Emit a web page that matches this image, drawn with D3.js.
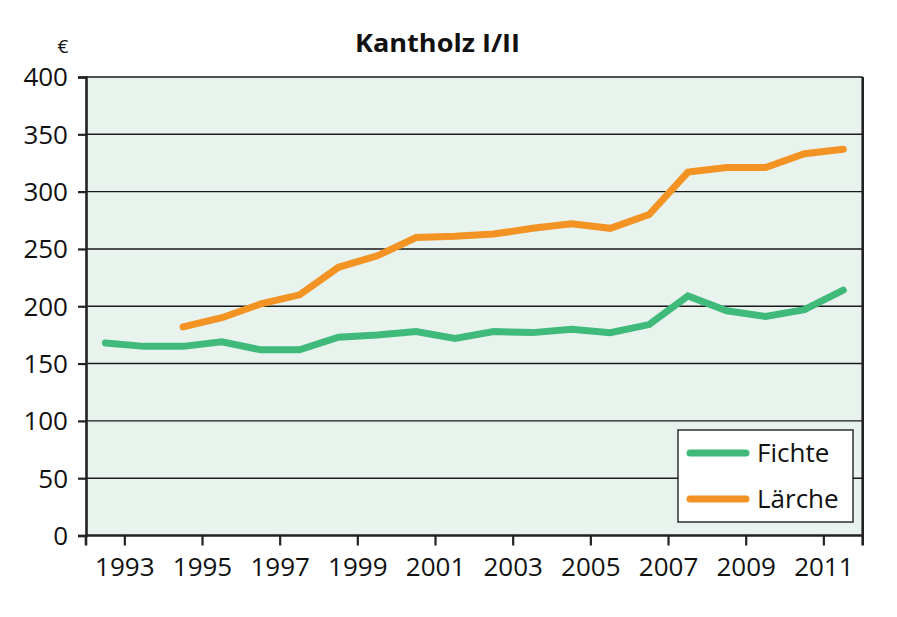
<!DOCTYPE html>
<html>
<head>
<meta charset="utf-8">
<script src="https://cdn.jsdelivr.net/npm/d3@7/dist/d3.min.js"></script>
<style>
  html, body { margin: 0; padding: 0; background: #fff; }
  svg { display: block; }
  text { font-family: "Open Sans", "Noto Sans", sans-serif; fill: #111; }
</style>
</head>
<body>
<svg id="chart" width="897" height="617"></svg>
<script>
const years = d3.range(1992, 2012);
const fichte = [168, 165, 165, 169, 162, 162, 173, 175, 178, 172, 178, 177, 180, 177, 184, 209, 196, 191, 197, 214];
const laercheYears = d3.range(1994, 2012);
const laerche = [182, 190, 202, 210, 234, 244, 260, 261, 263, 268, 272, 268, 280, 317, 321, 321, 333, 337];
const yTicks = [0, 50, 100, 150, 200, 250, 300, 350, 400];
const xTickYears = [1993, 1995, 1997, 1999, 2001, 2003, 2005, 2007, 2009, 2011];
const seriesNames = ["Fichte", "Lärche"];
const colors = ["#3fba7a", "#f39324"];
const title = "Kantholz I/II";
const unit = "€";

const svg = d3.select("#chart");
const L = 86, R = 862.7, T = 77, B = 535.5;

const x = d3.scaleBand().domain(years).range([L, R]).paddingInner(0).paddingOuter(0);
const y = d3.scaleLinear().domain([0, 400]).range([B, T]);
const cx = yr => x(yr) + x.bandwidth() / 2;

// background
svg.append("rect").attr("x", L).attr("y", T).attr("width", R - L).attr("height", B - T)
  .attr("fill", "#e8f3ee");

// gridlines
svg.append("g").selectAll("line").data(yTicks.filter(d => d > 0)).join("line")
  .attr("x1", L).attr("x2", R).attr("y1", d => y(d)).attr("y2", d => y(d))
  .attr("stroke", "#1a1a1a").attr("stroke-width", 1.4);

// y axis
const yAxis = d3.axisLeft(y).tickValues(yTicks).tickSize(8).tickPadding(10);
const gy = svg.append("g").attr("transform", `translate(${L},0)`).call(yAxis);
gy.select(".domain").attr("stroke", "#222").attr("stroke-width", 2.6);
gy.selectAll(".tick line").attr("stroke", "#222").attr("stroke-width", 2.2);
gy.selectAll(".tick text").attr("font-size", 26).attr("fill", "#111")
  .attr("font-family", "'Open Sans', sans-serif").attr("dy", "0.34em");

// right border
svg.append("line").attr("x1", R).attr("x2", R).attr("y1", T).attr("y2", B + 10)
  .attr("stroke", "#222").attr("stroke-width", 2.6);
svg.append("line").attr("x1", L).attr("x2", L).attr("y1", B).attr("y2", B + 10)
  .attr("stroke", "#222").attr("stroke-width", 2.6);

// x axis
const gx = svg.append("g").attr("transform", `translate(0,${B})`);
gx.append("line").attr("x1", L).attr("x2", R).attr("stroke", "#222").attr("stroke-width", 2.6);
const xt = gx.selectAll("g.t").data(xTickYears).join("g").attr("class", "t")
  .attr("transform", d => `translate(${x(d)},0)`);
xt.append("line").attr("y1", 0).attr("y2", 10).attr("stroke", "#222").attr("stroke-width", 2.2);
xt.append("text").attr("y", 40).attr("text-anchor", "middle").attr("font-size", 26)
  .text(d => d);

// lines
const line = d3.line().x(d => cx(d[0])).y(d => y(d[1]));
const data = [d3.zip(years, fichte), d3.zip(laercheYears, laerche)];
svg.append("g").selectAll("path").data(data).join("path")
  .attr("d", line).attr("fill", "none")
  .attr("stroke", (d, i) => colors[i]).attr("stroke-width", 7)
  .attr("stroke-linejoin", "miter").attr("stroke-linecap", "round");

// title
svg.append("text").attr("x", 355).attr("y", 52)
  .attr("font-size", 25).attr("font-weight", "bold")
  .attr("textLength", 165).attr("lengthAdjust", "spacingAndGlyphs").text(title);
svg.append("text").attr("x", 63).attr("y", 53).attr("text-anchor", "middle")
  .attr("font-size", 19).text(unit);

// legend
const lg = svg.append("g");
lg.append("rect").attr("x", 678).attr("y", 430).attr("width", 175).attr("height", 92)
  .attr("fill", "#fff").attr("stroke", "#222").attr("stroke-width", 1.4);
const li = lg.selectAll("g.li").data(seriesNames).join("g").attr("class", "li")
  .attr("transform", (d, i) => `translate(0,${453 + i * 46})`);
li.append("line").attr("x1", 690).attr("x2", 746).attr("stroke", (d, i) => colors[i])
  .attr("stroke-width", 7).attr("stroke-linecap", "round");
li.append("text").attr("x", 757).attr("y", 0).attr("dy", "0.35em").attr("font-size", 26)
  .text(d => d);
</script>
</body>
</html>
